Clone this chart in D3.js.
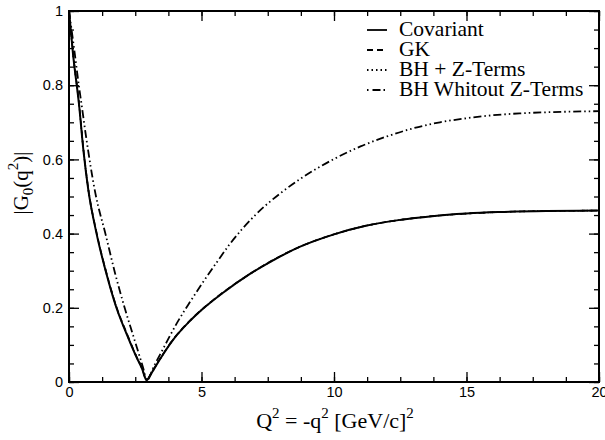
<!DOCTYPE html>
<head>
    <meta charset="UTF-8">
    <script src="https://d3js.org/d3.v7.min.js"></script>
    <style>
        body { margin: 0; background: white; }
        svg { display: block; font-family: "Liberation Serif", "DejaVu Serif", serif; }
        .tick text { font-size: 14.5px; fill: black; }
    </style>
</head>
<body>
    <div id="chart"><svg></svg></div>
    <script>
        // Q^2 values
        let covX = [0, 0.15, 0.375, 0.55, 0.73, 1.04, 1.4, 1.79, 2.2, 2.54, 2.75, 2.93, 3.1, 3.42, 3.92, 4.5, 5, 5.8, 6.8, 7.7, 8.7, 10, 11.2, 12.5, 13.7, 15, 16.2, 18, 20]
        let covY = [1.0, 0.885, 0.75, 0.62, 0.517, 0.40, 0.295, 0.20, 0.125, 0.068, 0.037, 0.005, 0.022, 0.06, 0.113, 0.16, 0.194, 0.240, 0.29, 0.328, 0.364, 0.398, 0.421, 0.437, 0.447, 0.454, 0.458, 0.461, 0.462]
        let gkY = [1.0, 0.888, 0.755, 0.625, 0.52, 0.403, 0.298, 0.203, 0.128, 0.07, 0.039, 0.006, 0.024, 0.061, 0.114, 0.161, 0.195, 0.241, 0.29, 0.329, 0.364, 0.398, 0.421, 0.437, 0.447, 0.454, 0.458, 0.461, 0.462]
        let bhzY = [1.0, 0.886, 0.752, 0.622, 0.518, 0.401, 0.296, 0.201, 0.126, 0.069, 0.038, 0.005, 0.023, 0.06, 0.113, 0.16, 0.194, 0.240, 0.29, 0.328, 0.364, 0.398, 0.421, 0.437, 0.447, 0.454, 0.458, 0.461, 0.462]
        let bhX = [0, 0.19, 0.38, 0.48, 0.63, 1.0, 1.38, 1.75, 2.1, 2.4, 2.67, 2.8, 2.94, 3.2, 3.54, 4.05, 4.55, 5, 5.55, 6.05, 7, 8, 8.7, 10, 11, 12, 13, 14, 15, 16, 17, 18, 20]
        let bhY = [1.0, 0.9, 0.795, 0.745, 0.668, 0.507, 0.398, 0.29, 0.20, 0.13, 0.068, 0.038, 0.005, 0.042, 0.088, 0.156, 0.214, 0.263, 0.32, 0.37, 0.448, 0.51, 0.546, 0.601, 0.635, 0.662, 0.684, 0.700, 0.711, 0.719, 0.724, 0.727, 0.730]

        let legendNames = ["Covariant", "GK", "BH + Z-Terms", "BH Whitout Z-Terms"]
        let dashes = [null, "6,4", "1.5,3", "8,3,1.5,3,1.5,3"]
        let xTicks = [0, 5, 10, 15, 20]
        let yTicks = [0, 0.2, 0.4, 0.6, 0.8, 1]

        let width = 605, height = 440
        let mLeft = 69, mRight = 599, mTop = 11, mBottom = 382

        let svg = d3.select("#chart svg")
            .attr("width", width)
            .attr("height", height)

        let x = d3.scaleLinear().domain([0, 20]).range([mLeft, mRight])
        let y = d3.scaleLinear().domain([0, 1]).range([mBottom, mTop])

        let xMinor = d3.range(0, 20.01, 1.25)
        let yMinor = d3.range(0, 1.001, 0.05)

        // ticks on all four sides, pointing inward
        function ticks(axisFn, scale, vals, size, pos) {
            svg.append("g")
                .attr("transform", pos)
                .call(axisFn(scale).tickValues(vals).tickSize(size).tickFormat(""))
                .call(g => g.select(".domain").remove())
                .call(g => g.selectAll("line").attr("stroke", "black").attr("stroke-width", 1.3))
        }
        ticks(d3.axisTop, x, xMinor, 5, `translate(0,${mBottom})`)
        ticks(d3.axisBottom, x, xMinor, 5, `translate(0,${mTop})`)
        ticks(d3.axisRight, y, yMinor, 5, `translate(${mLeft},0)`)
        ticks(d3.axisLeft, y, yMinor, 5, `translate(${mRight},0)`)
        ticks(d3.axisTop, x, xTicks, 10, `translate(0,${mBottom})`)
        ticks(d3.axisBottom, x, xTicks, 10, `translate(0,${mTop})`)
        ticks(d3.axisRight, y, yTicks, 10, `translate(${mLeft},0)`)
        ticks(d3.axisLeft, y, yTicks, 10, `translate(${mRight},0)`)

        // tick labels
        svg.append("g")
            .attr("transform", `translate(0,${mBottom})`)
            .call(d3.axisBottom(x).tickValues(xTicks).tickSize(0).tickPadding(5).tickFormat(d3.format("d")))
            .call(g => g.select(".domain").remove())
        svg.append("g")
            .attr("transform", `translate(${mLeft},0)`)
            .call(d3.axisLeft(y).tickValues(yTicks).tickSize(0).tickPadding(6).tickFormat(d => d == 0 || d == 1 ? d : d3.format(".1f")(d)))
            .call(g => g.select(".domain").remove())

        svg.append("rect")
            .attr("x", mLeft).attr("y", mTop)
            .attr("width", mRight - mLeft).attr("height", mBottom - mTop)
            .attr("fill", "none").attr("stroke", "black").attr("stroke-width", 2)

        let line = d3.line()
            .x(d => x(d[0]))
            .y(d => y(d[1]))
            .curve(d3.curveMonotoneX)

        let series = [
            d3.zip(covX, gkY),
            d3.zip(covX, bhzY),
            d3.zip(bhX, bhY),
            d3.zip(covX, covY)
        ]
        let seriesDash = [dashes[1], dashes[2], dashes[3], dashes[0]]
        let seriesWidth = [1.6, 1.6, 1.8, 2]

        series.forEach((s, i) => {
            svg.append("path")
                .datum(s)
                .attr("d", line)
                .attr("fill", "none")
                .attr("stroke", "black")
                .attr("stroke-width", seriesWidth[i])
                .attr("stroke-dasharray", seriesDash[i])
        })

        // legend
        legendNames.forEach((name, i) => {
            let cy = 30 + i * 20
            svg.append("line")
                .attr("x1", 367).attr("x2", 387)
                .attr("y1", cy).attr("y2", cy)
                .attr("stroke", "black")
                .attr("stroke-width", 1.8)
                .attr("stroke-dasharray", i == 3 ? "1.5,4,8,3" : dashes[i])
            svg.append("text")
                .attr("x", 399)
                .attr("y", cy + 6)
                .text(name)
                .style("font-size", "21.5px")
        })

        // axis titles
        let xt = svg.append("text")
            .attr("x", 335)
            .attr("y", 428)
            .style("font-size", "22px")
            .style("text-anchor", "middle")
        xt.append("tspan").text("Q")
        xt.append("tspan").attr("dy", -10).style("font-size", "15px").text("2")
        xt.append("tspan").attr("dy", 10).text(" = -q")
        xt.append("tspan").attr("dy", -10).style("font-size", "15px").text("2")
        xt.append("tspan").attr("dy", 10).text(" [GeV/c]")
        xt.append("tspan").attr("dy", -10).style("font-size", "15px").text("2")

        let yt = svg.append("text")
            .attr("transform", "translate(28,183) rotate(-90)")
            .style("font-size", "21px")
            .style("text-anchor", "middle")
        yt.append("tspan").text("|G")
        yt.append("tspan").attr("dy", 5).style("font-size", "15px").text("0")
        yt.append("tspan").attr("dy", -5).text("(q")
        yt.append("tspan").attr("dy", -10).style("font-size", "15px").text("2")
        yt.append("tspan").attr("dy", 10).text(")|")
    </script>
</body>
</html>
